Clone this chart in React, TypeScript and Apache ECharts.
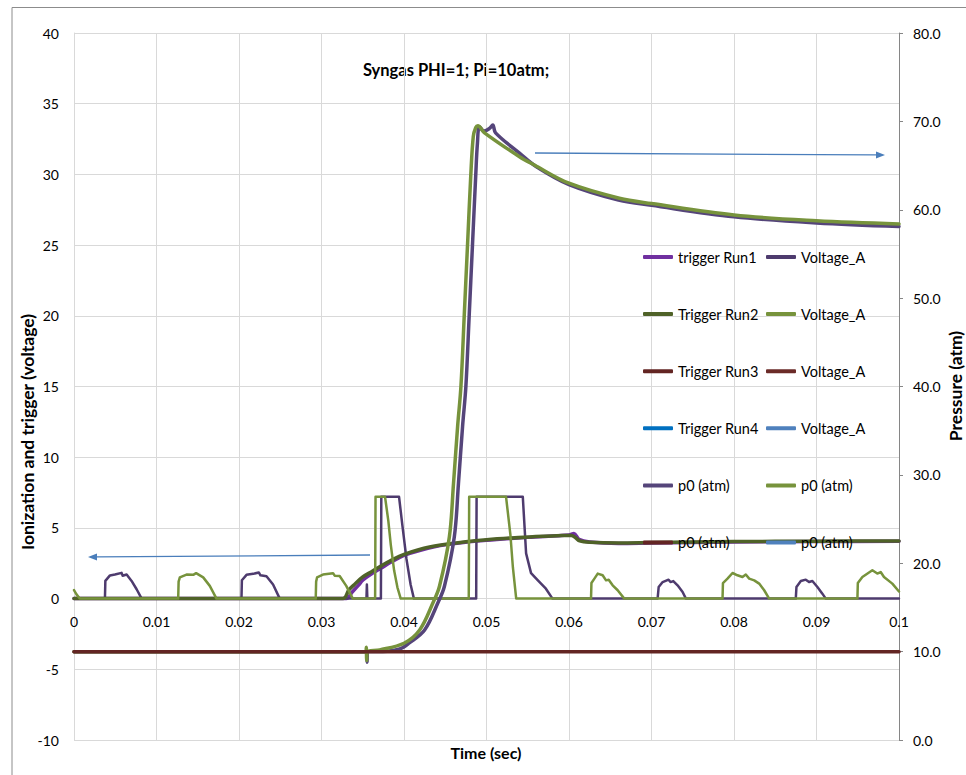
import React, { useEffect, useRef } from "react";
import * as echarts from "echarts";

type P = [number, number];

// Time ticks (sec) and axis ranges
const timeMin = 0;
const timeMax = 0.1;
const timeStep = 0.01;
const voltMin = -10;
const voltMax = 40;
const voltStep = 5;
const presMin = 0;
const presMax = 80;
const presStep = 10;

// Trigger signals (left axis, V)
const triggerRun1: P[] = [
  [0, 0], [0.033, 0], [0.0337, 0.45], [0.0345, 0.95], [0.035, 1.3], [0.0362, 1.8],
  [0.0372, 2.15], [0.0385, 2.6], [0.04, 3.05], [0.042, 3.42], [0.045, 3.8], [0.05, 4.12],
  [0.055, 4.33], [0.06, 4.5], [0.0606, 4.6], [0.0612, 4.2], [0.0625, 4.0], [0.066, 3.9],
  [0.07, 3.93], [0.08, 4.0], [0.09, 4.03], [0.1, 4.05],
];
const triggerRun2: P[] = [
  [0, 0], [0.0326, 0], [0.0333, 0.6], [0.034, 1.0], [0.035, 1.53], [0.0362, 1.95],
  [0.037, 2.24], [0.0385, 2.72], [0.04, 3.13], [0.0431, 3.65], [0.0472, 4.0], [0.05, 4.17],
  [0.0552, 4.36], [0.0592, 4.46], [0.0603, 4.47], [0.0608, 4.3], [0.0613, 4.08], [0.0625, 3.98],
  [0.066, 3.93], [0.07, 3.96], [0.08, 4.03], [0.09, 4.06], [0.1, 4.08],
];
const triggerRun3: P[] = [];
const triggerRun4: P[] = [];

// Ionization voltage signals (left axis, V)
const voltageRun1: P[] = [
  [0, 0], [0.00375, 0], [0.0038, 1.25], [0.00436, 1.64], [0.00496, 1.7], [0.00577, 1.82],
  [0.0059, 1.62], [0.00638, 1.7], [0.00698, 1.25], [0.00759, 0.66], [0.0082, 0],
  [0.0203, 0], [0.02035, 1.3], [0.02091, 1.68], [0.02171, 1.75], [0.0224, 1.85], [0.0226, 1.65],
  [0.02333, 1.58], [0.02413, 1.0], [0.02494, 0],
  [0.03545, 0], [0.0355, 1.0], [0.03556, 0],
  [0.0372, 0], [0.03725, 7.2], [0.0394, 7.2], [0.0398, 5.2], [0.0403, 2.8], [0.0408, 1.0], [0.0412, 0],
  [0.04875, 0], [0.0488, 7.2], [0.0544, 7.2], [0.0548, 3.2], [0.0554, 1.8], [0.0562, 1.3],
  [0.0572, 0.7], [0.058, 0],
  [0.07074, 0], [0.07087, 0.82], [0.07135, 1.17], [0.07207, 1.34], [0.0723, 1.17], [0.07264, 1.24],
  [0.07316, 0.94], [0.07377, 0.47], [0.07417, 0],
  [0.08749, 0], [0.08757, 0.82], [0.0881, 1.24], [0.0887, 1.34], [0.0891, 1.17], [0.0895, 1.24],
  [0.09011, 0.82], [0.09071, 0.35], [0.09112, 0], [0.1, 0],
];
const voltageRun2: P[] = [
  [0, 0.6], [0.0003, 0.3], [0.0007, 0],
  [0.01263, 0], [0.01268, 1.2], [0.01283, 1.5], [0.01364, 1.7], [0.01445, 1.68], [0.0148, 1.8],
  [0.01566, 1.5], [0.01646, 0.9], [0.01727, 0],
  [0.0293, 0], [0.02935, 1.2], [0.02946, 1.5], [0.03018, 1.7], [0.0314, 1.8], [0.0316, 1.62],
  [0.0322, 1.6], [0.033, 0.9], [0.0338, 0],
  [0.0365, 0], [0.03655, 7.2], [0.0377, 7.2], [0.0381, 5.5], [0.0384, 3.8], [0.0388, 2.0],
  [0.0392, 0.8], [0.0396, 0],
  [0.04785, 0], [0.0479, 7.2], [0.05237, 7.2], [0.0529, 4.5], [0.0532, 2.2], [0.0536, 0],
  [0.06267, 0], [0.06272, 1.1], [0.06308, 1.41], [0.06348, 1.77], [0.06408, 1.65], [0.06449, 1.29],
  [0.06481, 1.33], [0.06529, 0.94], [0.0659, 0.59], [0.0667, 0],
  [0.07861, 0], [0.07866, 1.1], [0.07921, 1.41], [0.07982, 1.81], [0.08042, 1.65], [0.08103, 1.53],
  [0.08143, 1.7], [0.08184, 1.41], [0.08245, 1.29], [0.08305, 1.06], [0.08366, 0.59], [0.08426, 0],
  [0.09496, 0], [0.09501, 1.1], [0.09556, 1.53], [0.09677, 2.0], [0.09737, 1.77], [0.09778, 1.88],
  [0.09818, 1.53], [0.09919, 1.06], [0.1, 0.5],
];
const voltageRun3: P[] = [];
const voltageRun4: P[] = [];

// Pressure (right axis, atm)
const p0Run1: P[] = [
  [0, 10], [0.0355, 10], [0.03553, 8.8], [0.03558, 10], [0.038, 10.05], [0.0395, 10.3],
  [0.0406, 10.95], [0.0425, 12.45], [0.0441, 15.5], [0.0449, 17.4], [0.0461, 23], [0.0466, 29],
  [0.0471, 35.5], [0.0475, 40], [0.0479, 48], [0.0483, 56], [0.0487, 64], [0.0489, 67.5],
  [0.04915, 69.4], [0.0497, 68.9], [0.05036, 69.2], [0.05076, 69.6], [0.0511, 68.7], [0.054, 66.4],
  [0.056, 64.9], [0.06, 62.85], [0.066, 61.1], [0.07, 60.5], [0.08, 59.2], [0.09, 58.5], [0.1, 58.1],
];
const p0Run2: P[] = [
  [0, 10], [0.0354, 10], [0.03543, 10.5], [0.03548, 9.0], [0.03555, 10], [0.03705, 10.2],
  [0.04, 10.95], [0.0419, 12.45], [0.0435, 15.5], [0.0443, 17.4], [0.0455, 23], [0.046, 29],
  [0.0465, 35.5], [0.0469, 40], [0.0473, 48], [0.0477, 56], [0.0481, 64], [0.0484, 68.3],
  [0.0487, 69.3], [0.04895, 69.5], [0.04976, 68.7], [0.054, 66.0], [0.0558, 65.06], [0.06, 63.0],
  [0.0661, 61.3], [0.07, 60.7], [0.08, 59.4], [0.09, 58.76], [0.1, 58.4],
];
const p0Run3: P[] = [[0, 10], [0.1, 10]];
const p0Run4: P[] = [];

const legendLeftNames = ["trigger Run1", "Trigger Run2", "Trigger Run3", "Trigger Run4", "p0 (atm)#1", "p0 (atm)#3"];
const legendRightNames = ["Voltage_A#1", "Voltage_A#2", "Voltage_A#3", "Voltage_A#4", "p0 (atm)#2", "p0 (atm)#4"];

const FONT = "Lato, 'Open Sans', sans-serif";

// Grid geometry
const GRID_TOP = 33;
const GRID_BOTTOM = 35;
const GRID_H = 775 - GRID_TOP - GRID_BOTTOM;

function line(name: string, data: P[], color: string, width: number, yAxisIndex: number, smooth: number | boolean) {
  return {
    name,
    type: "line",
    data,
    yAxisIndex,
    showSymbol: false,
    symbol: "none",
    smooth,
    itemStyle: { color },
    lineStyle: { color, width, cap: "round", join: "round" },
    emphasis: { disabled: true },
  };
}

function arrow(x1: number, y1: number, x2: number, y2: number, color: string) {
  const ang = Math.atan2(y2 - y1, x2 - x1);
  const L = 9;
  const W = 3.5;
  const bx = x2 - L * Math.cos(ang);
  const by = y2 - L * Math.sin(ang);
  const px = -Math.sin(ang) * W;
  const py = Math.cos(ang) * W;
  return [
    { type: "line", shape: { x1, y1, x2: bx, y2: by }, style: { stroke: color, lineWidth: 1.3 }, z: 100 },
    {
      type: "polygon",
      shape: { points: [[x2, y2], [bx + px, by + py], [bx - px, by - py]] },
      style: { fill: color },
      z: 100,
    },
  ];
}

export default function App() {
  const ref = useRef<HTMLDivElement>(null);
  useEffect(() => {
    document.body.style.margin = "0";
    if (!ref.current) return;
    const chart = echarts.init(ref.current, undefined, { renderer: "svg" });
    // place the x axis on the left axis' zero line
    const zeroOffset = -(GRID_H * (0 - voltMin)) / (voltMax - voltMin);
    const legendCommon = {
      orient: "vertical",
      top: 249,
      padding: 0,
      itemWidth: 30,
      itemHeight: 4,
      icon: "roundRect",
      itemGap: 41.1,
      selectedMode: false,
      formatter: (n: string) => n.split("#")[0],
      textStyle: { fontFamily: FONT, fontSize: 14.5, color: "#000", lineHeight: 16 },
    };
    const option = {
      animation: false,
      backgroundColor: "#fff",
      textStyle: { fontFamily: FONT },
      grid: { left: 74, right: 67, top: GRID_TOP, bottom: GRID_BOTTOM, containLabel: false },
      legend: [
        { ...legendCommon, left: 643, data: legendLeftNames },
        { ...legendCommon, left: 766, data: legendRightNames },
      ],
      xAxis: {
        type: "value",
        min: timeMin,
        max: timeMax,
        interval: timeStep,
        offset: zeroOffset,
        axisLine: { onZero: false, lineStyle: { color: "#d9d9d9" } },
        axisTick: { show: false },
        axisLabel: {
          margin: 16,
          fontSize: 14,
          color: "#000",
          fontFamily: FONT,
          formatter: (v: number) => String(+v.toFixed(2)),
        },
        splitLine: { show: true, lineStyle: { color: "#d9d9d9", width: 1 } },
      },
      yAxis: [
        {
          type: "value",
          position: "left",
          min: voltMin,
          max: voltMax,
          interval: voltStep,
          axisLine: { show: true, onZero: false, lineStyle: { color: "#d9d9d9" } },
          axisTick: { show: false },
          axisLabel: { margin: 15, fontSize: 14, color: "#000", fontFamily: FONT },
          splitLine: { show: true, lineStyle: { color: "#d9d9d9", width: 1 } },
        },
        {
          type: "value",
          position: "right",
          min: presMin,
          max: presMax,
          interval: presStep,
          axisLine: { show: true, onZero: false, lineStyle: { color: "#868686", width: 1 } },
          axisTick: { show: true, length: 4, lineStyle: { color: "#868686" } },
          axisLabel: {
            margin: 14,
            fontSize: 14,
            color: "#000",
            fontFamily: FONT,
            formatter: (v: number) => v.toFixed(1),
          },
          splitLine: { show: false },
        },
      ],
      series: [
        line("trigger Run1", triggerRun1, "#7030A0", 3.5, 0, 0.35),
        line("Voltage_A#1", voltageRun1, "#4E3B6E", 2.5, 0, false),
        line("Trigger Run2", triggerRun2, "#4F6228", 3.5, 0, 0.35),
        line("Voltage_A#2", voltageRun2, "#77933C", 2.5, 0, false),
        line("Trigger Run3", triggerRun3, "#632523", 3.5, 0, false),
        line("Voltage_A#3", voltageRun3, "#6B2B28", 2.5, 0, false),
        line("Trigger Run4", triggerRun4, "#0070C0", 3.5, 0, false),
        line("Voltage_A#4", voltageRun4, "#4F81BD", 2.5, 0, false),
        line("p0 (atm)#1", p0Run1, "#55457A", 3.5, 1, 0.35),
        line("p0 (atm)#2", p0Run2, "#77933C", 3.5, 1, 0.35),
        line("p0 (atm)#3", p0Run3, "#632523", 3.5, 1, false),
        line("p0 (atm)#4", p0Run4, "#4F81BD", 3.5, 1, false),
      ],
      graphic: [
        {
          type: "rect",
          shape: { x: 12, y: 7.5, width: 980, height: 800 },
          style: { fill: "none", stroke: "#8c8c8c", lineWidth: 1 },
          silent: true,
        },
        {
          type: "text",
          x: 456,
          y: 70,
          style: { text: "Syngas PHI=1; Pi=10atm;", fontFamily: FONT, fontSize: 16.5, fontWeight: "bold", fill: "#000", align: "center", verticalAlign: "middle" },
        },
        {
          type: "text",
          x: 27,
          y: 432,
          rotation: Math.PI / 2,
          style: { text: "Ionization and trigger (voltage)", fontFamily: FONT, fontSize: 17.5, fontWeight: "bold", fill: "#000", align: "center", verticalAlign: "middle" },
        },
        {
          type: "text",
          x: 955,
          y: 386,
          rotation: Math.PI / 2,
          style: { text: "Pressure (atm)", fontFamily: FONT, fontSize: 17.5, fontWeight: "bold", fill: "#000", align: "center", verticalAlign: "middle" },
        },
        {
          type: "text",
          x: 486,
          y: 752,
          style: { text: "Time (sec)", fontFamily: FONT, fontSize: 16, fontWeight: "bold", fill: "#000", align: "center", verticalAlign: "middle" },
        },
        ...arrow(370, 555, 88, 557, "#4A7EBB"),
        ...arrow(535, 153, 885, 155, "#4A7EBB"),
      ],
    };
    chart.setOption(option as any);
    return () => chart.dispose();
  }, []);
  return <div ref={ref} style={{ width: 966, height: 775 }} />;
}
